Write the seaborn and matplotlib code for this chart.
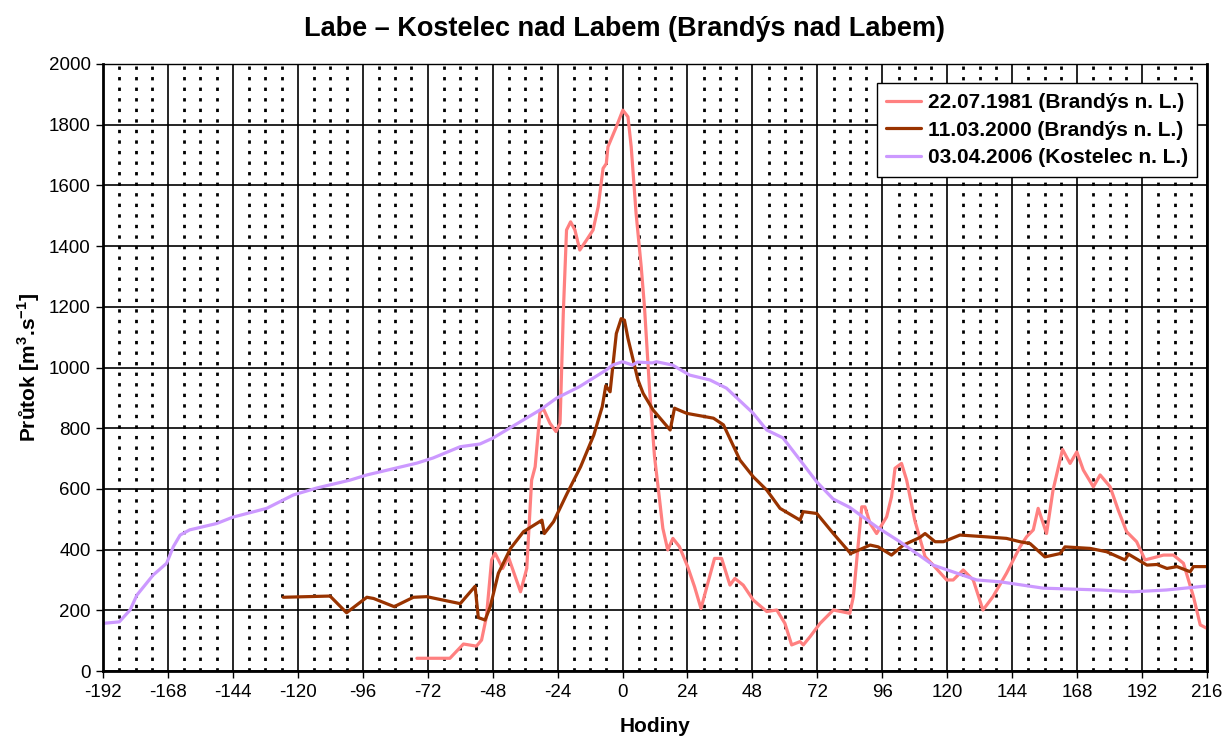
import numpy as np
import pandas as pd
import matplotlib
matplotlib.use('Agg')
import matplotlib.pyplot as plt
from matplotlib.ticker import MultipleLocator
import seaborn as sns

# 22.07.1981 (Brandys n. L.)
hours_1981 = [-76, -63.8, -58.8, -54, -52.1, -50.3, -48.4, -47.1, -44.3, -42.2, -37.7, -35.4,
              -33.6, -32.3, -30.5, -29.3, -26.8, -24.6, -23.1, -21.9, -20.7, -19.2, -17.6, -15.8,
              -13.3, -10.9, -9, -7.2, -6, -5.4, -2.3, 0.1, 2, 3.2, 5, 6.9, 8.1, 10, 11.8, 13.7,
              14.9, 16.7, 18.6, 21, 24.1, 26.6, 29, 31.5, 34, 36.6, 39.7, 41.5, 44.6, 48.3,
              53.3, 57, 60, 62.5, 65.6, 66.8, 69.3, 73, 77.9, 84, 85.3, 88.4, 89.6, 91.5, 93.9,
              97.6, 99.4, 100.7, 103.1, 105, 108, 111.8, 114.8, 119.8, 122.2, 125.9, 129.6,
              133.2, 136.9, 141.9, 146.9, 149.3, 151.8, 153.6, 156.7, 159.1, 162.6, 165.4,
              167.9, 170.3, 174, 176.5, 180.2, 183.2, 186.3, 190, 193.1, 197.4, 199.9, 203.6,
              207.3, 211, 213.5, 215.9]
flow_1981 = [42, 42, 89, 82, 102, 179, 366, 388, 338, 376, 261, 338,
             629, 673, 854, 865, 816, 789, 816, 1178, 1453, 1480, 1453, 1387,
             1420, 1453, 1530, 1656, 1672, 1727, 1793, 1848, 1826, 1727, 1508, 1332, 1200, 926, 708, 563,
             470, 399, 437, 410, 343, 278, 206, 289, 371, 371, 283, 305, 283, 234,
             196, 201, 157, 86, 97, 86, 113, 157, 201, 190, 245, 541, 541, 486, 453,
             508, 574, 668, 684, 629, 497, 377, 349, 300, 300, 333, 300,
             201, 245, 322, 409, 442, 465, 536, 453, 596, 730, 684,
             722, 662, 607, 646, 607, 530, 459, 426, 366, 376, 382, 382,
             355, 245, 152, 141]

# 11.03.2000 (Brandys n. L.)
hours_2000 = [-125.4, -108.1, -102, -94.5, -92, -84.4, -77.3, -72.4, -60, -54.5, -53.3, -50.8,
              -48.9, -45.9, -41.4, -36.6, -29.8, -28.9, -25.5, -20.5, -15.5, -10.6, -7.5, -6.2,
              -4.6, -2.3, -0.5, 0.7, 2, 5.7, 7.6, 11.3, 17.6, 19.2, 23.7, 33.6, 37.3, 43.4,
              48.3, 53.3, 58.2, 65.6, 66.8, 71.8, 77.9, 84.3, 91.5, 94.5, 99.4, 103.8, 109.9,
              111.8, 115.5, 118.6, 124.7, 134.6, 141.9, 146.9, 150.6, 156.1, 159.2, 161.7,
              163.5, 172.8, 178.9, 185.7, 187, 193.8, 197.5, 201.2, 204.9, 209.8, 211, 216]
flow_2000 = [243, 247, 192, 243, 239, 212, 243, 245, 222, 279, 176, 168,
             212, 322, 404, 459, 497, 453, 492, 585, 673, 778, 871, 940,
             920, 1112, 1161, 1156, 1096, 959, 915, 860, 794, 866, 849, 833, 811, 695,
             640, 596, 536, 497, 525, 519, 453, 387, 415, 409, 382, 415, 440,
             453, 426, 426, 448, 442, 437, 426, 420, 376, 382, 387,
             409, 404, 393, 366, 385, 349, 351, 338, 344, 327, 344, 344]

# 03.04.2006 (Kostelec n. L.)
hours_2006 = [-192, -186, -182, -179.5, -173.5, -168.5, -166, -163.5, -160, -150, -144, -131.5,
              -125.5, -121.7, -113, -100.7, -94.5, -76, -70, -60, -52.7, -48, -30.5, -24.4,
              -15.9, -6, -3.7, 0, 3.7, 5.5, 11, 12.5, 18.5, 24.8, 32.3, 38.4, 48.2, 53.3, 59.3,
              65.6, 71.7, 77.8, 84, 93.9, 102.5, 114.8, 130.9, 139.5, 155.5, 176.5, 188.6,
              201, 213.4, 216]
flow_2006 = [157, 162, 201, 250, 316, 355, 410, 448, 465, 486, 507, 536,
             563, 580, 603, 629, 646, 685, 702, 739, 748, 767, 860, 899,
             937, 992, 1008, 1019, 1008, 1018, 1015, 1019, 1008, 975, 959, 932, 850, 794, 768,
             695, 624, 567, 539, 475, 426, 349, 300, 294, 273, 267, 261,
             267, 278, 280]

labels = ['22.07.1981 (Brandýs n. L.)', '11.03.2000 (Brandýs n. L.)', '03.04.2006 (Kostelec n. L.)']
colors = ['#FF8080', '#993300', '#CC99FF']
x_ticks = list(range(-192, 217, 24))

df = pd.concat([
    pd.DataFrame({'Hodiny': hours_1981, 'Q': flow_1981, 'serie': labels[0]}),
    pd.DataFrame({'Hodiny': hours_2000, 'Q': flow_2000, 'serie': labels[1]}),
    pd.DataFrame({'Hodiny': hours_2006, 'Q': flow_2006, 'serie': labels[2]}),
], ignore_index=True)

sns.set_theme(style='white')
plt.rcParams['font.family'] = ['Liberation Sans', 'DejaVu Sans']
plt.rcParams['axes.unicode_minus'] = False
plt.rcParams['mathtext.fontset'] = 'custom'
plt.rcParams['mathtext.rm'] = 'Liberation Sans'
plt.rcParams['mathtext.bf'] = 'Liberation Sans:bold'
for k in ['text.color', 'axes.labelcolor', 'xtick.color', 'ytick.color']:
    plt.rcParams[k] = 'black'

fig = plt.figure(figsize=(12.31, 7.45), dpi=100)
ax = fig.add_axes([0.0837, 0.0993, 0.8968, 0.8148])

sns.lineplot(data=df, x='Hodiny', y='Q', hue='serie', palette=dict(zip(labels, colors)),
             hue_order=labels, sort=False, estimator=None, linewidth=2.3, ax=ax)

ax.set_xlim(-192, 216)
ax.set_ylim(0, 2000)
ax.set_xticks(x_ticks)
ax.set_yticks(range(0, 2001, 200))
ax.xaxis.set_minor_locator(MultipleLocator(6))
ax.set_axisbelow(True)
ax.grid(which='major', color='black', linewidth=1.2)
ax.grid(which='minor', axis='x', color='black', linewidth=2.0, linestyle=(0, (1.2, 2.6)))
ax.tick_params(which='major', direction='out', length=5, width=1, color='black',
               labelsize=13.5, bottom=True, left=True, pad=4)
ax.tick_params(which='minor', length=0)
for s in ['left', 'bottom', 'right']:
    ax.spines[s].set_linewidth(2)
    ax.spines[s].set_color('black')
ax.spines['top'].set_linewidth(1)
ax.spines['top'].set_color('black')

ax.set_xlabel('Hodiny', fontsize=15, fontweight='bold', labelpad=12)
ax.set_ylabel(r'Průtok [m$^{\mathbf{3}}$.s$^{\mathbf{-1}}$]', fontsize=15, fontweight='bold', labelpad=5)
fig.text(0.507, 0.961, 'Labe – Kostelec nad Labem (Brandýs nad Labem)', fontsize=19.5,
         fontweight='bold', ha='center', va='center')

leg = ax.legend(loc='upper right', bbox_to_anchor=(0.991, 0.968), fontsize=15, frameon=True,
                fancybox=False, edgecolor='black', framealpha=1, handlelength=1.7,
                borderpad=0.45, labelspacing=0.42, handletextpad=0.3, borderaxespad=0)
leg.get_frame().set_linewidth(1)
for t in leg.get_texts():
    t.set_fontweight('bold')

fig.savefig('out.png', dpi=100)
